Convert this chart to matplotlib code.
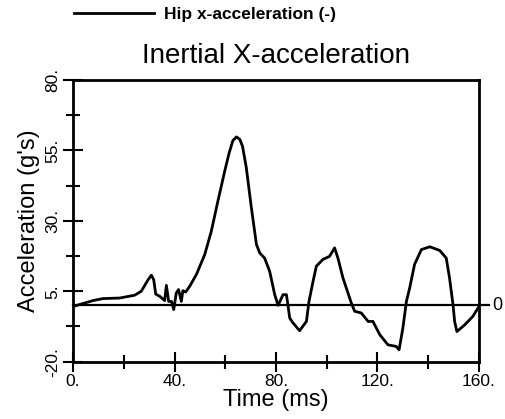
import matplotlib
matplotlib.use('Agg')
import matplotlib.pyplot as plt
from matplotlib.ticker import FixedLocator

plt.rcParams['font.family'] = ['Liberation Sans', 'DejaVu Sans']

# hip x-acceleration trace (ms, g's)
time_ms = [0, 7.9, 11.8, 18.4, 24.3, 26.9, 29.6, 30.9, 31.8, 32.6, 34.2, 36.1,
           36.8, 37.7, 38.8, 39.7, 40.7, 41.6, 42.7, 43.3, 44.4, 46.0, 48.6,
           51.9, 54.5, 57.1, 59.8, 61.5, 63.0, 64.4, 65.7, 66.8, 68.3, 70.3,
           72.3, 73.6, 75.5, 77.5, 79.5, 80.8, 81.7, 82.8, 84.1, 84.7, 85.4,
           86.5, 89.3, 92.0, 93.0, 94.6, 95.9, 98.5, 101.1, 103.1, 104.4,
           106.4, 109.7, 111.0, 113.6, 116.3, 118.2, 120.9, 124.1, 127.4,
           128.5, 130.0, 131.4, 132.7, 134.6, 137.3, 140.6, 144.5, 147.1,
           148.4, 149.8, 150.4, 151.3, 154.4, 157.6, 160.0]
accel = [-0.4, 1.7, 2.4, 2.6, 3.6, 5.0, 9.1, 10.7, 9.1, 4.0, 3.2, 1.7,
         7.1, 1.4, 1.4, -1.5, 4.4, 5.6, 1.4, 5.2, 4.7, 6.8, 10.9,
         18.0, 26.3, 37.0, 47.7, 54.0, 58.5, 59.8, 59.0, 56.5, 48.9, 34.6,
         21.6, 18.6, 16.8, 12.1, 3.8, 0.0, 1.7, 3.8, 3.8, 0.2, -4.5,
         -6.0, -9.0, -5.7, 1.4, 8.5, 13.9, 16.3, 17.4, 20.4, 16.8,
         9.7, 0.8, -2.1, -2.7, -5.7, -5.7, -10.4, -14.0, -14.6,
         -15.8, -8.1, 1.4, 6.2, 14.5, 19.8, 20.8, 19.5, 16.8,
         9.7, 0.0, -5.7, -9.3, -6.9, -3.9, -0.4]

x_major = [0, 40, 80, 120, 160]
x_minor = [20, 60, 100, 140]
x_labels = ['0.', '40.', '80.', '120.', '160.']
y_major = [-20, 5, 30, 55, 80]
y_minor = [-7.5, 17.5, 42.5, 67.5]
y_labels = ['-20.', '5.', '30.', '55.', '80.']

fig = plt.figure(figsize=(5.06, 4.19), dpi=100)
ax = fig.add_axes([0.1443, 0.1368, 0.8023, 0.6722])

ax.plot(time_ms, accel, color='black', lw=2.0, solid_joinstyle='round',
        label='Hip x-acceleration (-)')
ax.axhline(0, xmin=0, xmax=1.025, color='black', lw=1.6, clip_on=False)
ax.text(1.033, 0, '0', transform=ax.get_yaxis_transform(), fontsize=13,
        va='center', ha='left')

ax.set_xlim(0, 160)
ax.set_ylim(-20, 80)

ax.xaxis.set_major_locator(FixedLocator(x_major))
ax.set_xticklabels(x_labels)
ax.xaxis.set_minor_locator(FixedLocator(x_minor))
ax.yaxis.set_major_locator(FixedLocator(y_major))
ax.set_yticklabels(y_labels, rotation=90, va='center')
ax.yaxis.set_minor_locator(FixedLocator(y_minor))

ax.tick_params(which='major', direction='inout', length=14, width=1.5,
               labelsize=12.5, pad=2)
ax.tick_params(which='minor', direction='inout', length=10, width=1.5)
ax.tick_params(axis='y', which='both', left=True, right=False)
ax.tick_params(axis='x', which='both', bottom=True, top=False)
for sp in ax.spines.values():
    sp.set_linewidth(2)

ax.set_title('Inertial X-acceleration', fontsize=20, pad=12)
ax.set_xlabel('Time (ms)', fontsize=17, labelpad=0)
ax.set_ylabel("Acceleration (g's)", fontsize=17, labelpad=4)

fig.legend(loc='center left', bbox_to_anchor=(0.115, 0.965), frameon=False,
           handlelength=4.6, handletextpad=0.6,
           prop={'size': 12.5, 'weight': 'bold'})

fig.savefig('out.png', dpi=100)
